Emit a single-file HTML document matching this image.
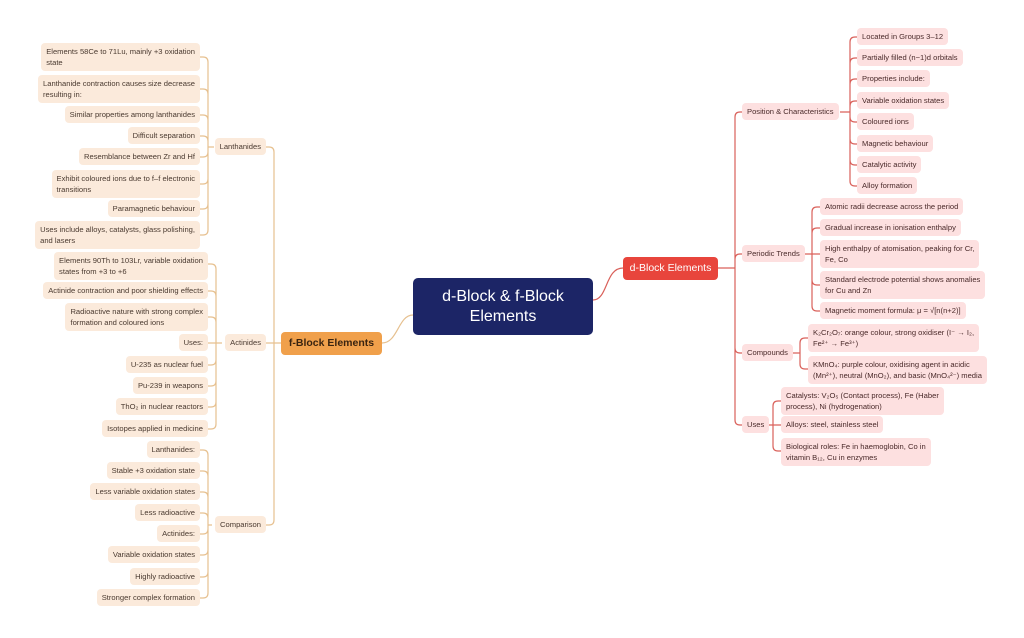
<!DOCTYPE html>
<html><head><meta charset="utf-8">
<style>
html,body{margin:0;padding:0;background:#fff;}
body{width:1024px;height:638px;position:relative;overflow:hidden;font-family:"Liberation Sans",sans-serif;}
.n{position:absolute;font-size:7.6px;line-height:11px;padding:3px 5px;border-radius:4px;color:#4a3a30;white-space:nowrap;}
.o{background:#fbeadb;}
.r{background:#fde0e0;color:#4a2a2a;}
.L{text-align:left;}
svg{position:absolute;left:0;top:0;}
</style></head><body>
<svg id="s" width="1024" height="638"></svg>

<div style="position:absolute;left:413px;top:278px;width:180px;height:57px;background:#1c2566;border-radius:5px;color:#fff;font-size:16px;line-height:20px;text-align:center;display:flex;align-items:center;justify-content:center;">d-Block &amp; f-Block<br>Elements</div>
<div style="position:absolute;left:623px;top:257px;width:95px;height:23px;background:#e8453c;border-radius:4px;color:#fff;font-size:10.5px;line-height:23px;text-align:center;">d-Block Elements</div>
<div style="position:absolute;left:281px;top:332px;width:101px;height:23px;background:#f0a04b;border-radius:4px;color:#3a2410;font-size:10.5px;font-weight:bold;line-height:23px;text-align:center;">f-Block Elements</div>

<!-- right level 2 -->
<div class="n r" style="left:742px;top:103px">Position &amp; Characteristics</div>
<div class="n r" style="left:742px;top:245px">Periodic Trends</div>
<div class="n r" style="left:742px;top:344px">Compounds</div>
<div class="n r" style="left:742px;top:416px">Uses</div>

<div class="n r" style="left:857px;top:28px">Located in Groups 3–12</div>
<div class="n r" style="left:857px;top:49px">Partially filled (n−1)d orbitals</div>
<div class="n r" style="left:857px;top:70px">Properties include:</div>
<div class="n r" style="left:857px;top:92px">Variable oxidation states</div>
<div class="n r" style="left:857px;top:113px">Coloured ions</div>
<div class="n r" style="left:857px;top:135px">Magnetic behaviour</div>
<div class="n r" style="left:857px;top:156px">Catalytic activity</div>
<div class="n r" style="left:857px;top:177px">Alloy formation</div>

<div class="n r" style="left:820px;top:198px">Atomic radii decrease across the period</div>
<div class="n r" style="left:820px;top:219px">Gradual increase in ionisation enthalpy</div>
<div class="n r" style="left:820px;top:240px">High enthalpy of atomisation, peaking for Cr,<br>Fe, Co</div>
<div class="n r" style="left:820px;top:271px">Standard electrode potential shows anomalies<br>for Cu and Zn</div>
<div class="n r" style="left:820px;top:302px">Magnetic moment formula: μ = √[n(n+2)]</div>

<div class="n r" style="left:808px;top:324px">K₂Cr₂O₇: orange colour, strong oxidiser (I⁻ → I₂,<br>Fe²⁺ → Fe³⁺)</div>
<div class="n r" style="left:808px;top:356px">KMnO₄: purple colour, oxidising agent in acidic<br>(Mn²⁺), neutral (MnO₂), and basic (MnO₄²⁻) media</div>

<div class="n r" style="left:781px;top:387px">Catalysts: V₂O₅ (Contact process), Fe (Haber<br>process), Ni (hydrogenation)</div>
<div class="n r" style="left:781px;top:416px">Alloys: steel, stainless steel</div>
<div class="n r" style="left:781px;top:438px">Biological roles: Fe in haemoglobin, Co in<br>vitamin B₁₂, Cu in enzymes</div>

<!-- left level 2 -->
<div class="n o" style="right:758px;top:138px">Lanthanides</div>
<div class="n o" style="right:758px;top:334px">Actinides</div>
<div class="n o" style="right:758px;top:516px">Comparison</div>

<div class="n o L" style="right:824px;top:43px">Elements 58Ce to 71Lu, mainly +3 oxidation<br>state</div>
<div class="n o L" style="right:824px;top:75px">Lanthanide contraction causes size decrease<br>resulting in:</div>
<div class="n o" style="right:824px;top:106px">Similar properties among lanthanides</div>
<div class="n o" style="right:824px;top:127px">Difficult separation</div>
<div class="n o" style="right:824px;top:148px">Resemblance between Zr and Hf</div>
<div class="n o L" style="right:824px;top:170px">Exhibit coloured ions due to f–f electronic<br>transitions</div>
<div class="n o" style="right:824px;top:200px">Paramagnetic behaviour</div>
<div class="n o L" style="right:824px;top:221px">Uses include alloys, catalysts, glass polishing,<br>and lasers</div>

<div class="n o L" style="right:816px;top:252px">Elements 90Th to 103Lr, variable oxidation<br>states from +3 to +6</div>
<div class="n o" style="right:816px;top:282px">Actinide contraction and poor shielding effects</div>
<div class="n o L" style="right:816px;top:303px">Radioactive nature with strong complex<br>formation and coloured ions</div>
<div class="n o" style="right:816px;top:334px">Uses:</div>
<div class="n o" style="right:816px;top:356px">U-235 as nuclear fuel</div>
<div class="n o" style="right:816px;top:377px">Pu-239 in weapons</div>
<div class="n o" style="right:816px;top:398px">ThO₂ in nuclear reactors</div>
<div class="n o" style="right:816px;top:420px">Isotopes applied in medicine</div>

<div class="n o" style="right:824px;top:441px">Lanthanides:</div>
<div class="n o" style="right:824px;top:462px">Stable +3 oxidation state</div>
<div class="n o" style="right:824px;top:483px">Less variable oxidation states</div>
<div class="n o" style="right:824px;top:504px">Less radioactive</div>
<div class="n o" style="right:824px;top:525px">Actinides:</div>
<div class="n o" style="right:824px;top:546px">Variable oxidation states</div>
<div class="n o" style="right:824px;top:568px">Highly radioactive</div>
<div class="n o" style="right:824px;top:589px">Stronger complex formation</div>

<script>
var d='',e='';
function br(px,py,bx,cx,ys,dir){
  var r=5,p='';
  ys.forEach(function(cy){
    if(Math.abs(cy-py)<2){p+='M'+px+' '+py+' H'+cx+' ';return;}
    var s=cy>py?1:-1;
    p+='M'+px+' '+py+' H'+bx+' V'+(cy-s*r)+' Q'+bx+' '+cy+' '+(bx+dir*r)+' '+cy+' H'+cx+' ';
  });
  return p;
}
d+=br(718,268,735,742,[112,254,353,425],1);
d+=br(840,112,850,857,[37,58,79,101,122,144,165,186],1);
d+=br(804,254,812,820,[207,228,254,285,311],1);
d+=br(792,353,800,808,[338,369],1);
d+=br(766,425,773,781,[401,425,451],1);
d+='M593 300 C608 300 605 268 623 268 ';
e+=br(281,343,274,266,[147,343,525],-1);
e+=br(214,147,208,200,[57,89,115,136,157,184,209,235],-1);
e+=br(222,343,216,208,[264,291,317,343,365,386,407,429],-1);
e+=br(212,525,208,200,[450,471,492,513,534,555,577,598],-1);
e+='M413 315 C398 315 398 343 382 343 ';
document.getElementById('s').innerHTML='<path d="'+d+'" fill="none" stroke="#d9605a" stroke-width="1.2"/><path d="'+e+'" fill="none" stroke="#e6c08f" stroke-width="1.2"/>';
</script>
</body></html>
